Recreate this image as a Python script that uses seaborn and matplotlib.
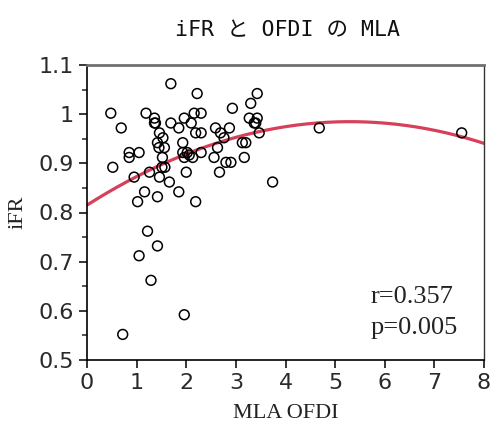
import numpy as np
import pandas as pd
import matplotlib
matplotlib.use("Agg")
import matplotlib.pyplot as plt
from matplotlib.ticker import MultipleLocator, FuncFormatter
import seaborn as sns

# values
mla_ofdi = [0.48, 0.69, 0.52, 0.85, 0.85, 1.05, 0.95, 1.19, 1.26, 1.16,
            1.02, 1.36, 1.36, 1.38, 1.46, 1.53, 1.42, 1.45, 1.56, 1.52,
            1.51, 1.57, 1.46, 1.66, 1.42, 1.69, 1.69, 1.85, 1.85, 1.96,
            2.10, 2.16, 2.30, 2.22, 2.19, 2.30, 1.93, 1.93, 2.02, 2.06,
            1.96, 2.13, 2.30, 2.00, 2.19, 2.56, 2.59, 2.63, 2.69, 2.76,
            2.87, 2.80, 2.90, 2.67, 2.93, 3.13, 3.20, 3.17, 3.27, 3.30,
            3.43, 3.37, 3.43, 3.40, 3.47, 3.74, 4.68, 7.55, 1.22, 1.42,
            1.05, 1.29, 1.96, 0.72]
ifr = [1.002, 0.972, 0.892, 0.922, 0.912, 0.922, 0.872, 1.002, 0.882, 0.842,
       0.822, 0.992, 0.982, 0.982, 0.962, 0.952, 0.942, 0.932, 0.932, 0.912,
       0.892, 0.892, 0.872, 0.862, 0.832, 1.062, 0.982, 0.972, 0.842, 0.992,
       0.982, 1.002, 1.002, 1.042, 0.962, 0.962, 0.942, 0.922, 0.922, 0.917,
       0.912, 0.912, 0.922, 0.882, 0.822, 0.912, 0.972, 0.932, 0.962, 0.952,
       0.972, 0.902, 0.902, 0.882, 1.012, 0.942, 0.942, 0.912, 0.992, 1.022,
       1.042, 0.982, 0.992, 0.982, 0.962, 0.862, 0.972, 0.962, 0.762, 0.732,
       0.712, 0.662, 0.592, 0.552]

# quadratic fit line (a*x^2 + b*x + c)
fit_coef = [-0.00605, 0.0641, 0.815]
fit_x = np.linspace(0, 8, 200)

r_text = "r=0.357"
p_text = "p=0.005"
title = "iFR と OFDI の MLA"

df = pd.DataFrame({"MLA OFDI": mla_ofdi, "iFR": ifr})
df_fit = pd.DataFrame({"x": fit_x, "y": np.polyval(fit_coef, fit_x)})

sns.set_theme(style="white")
plt.rcParams["font.family"] = ["DejaVu Sans"]

fig = plt.figure(figsize=(4.99, 4.25), dpi=100)
ax = fig.add_axes([0.1743, 0.153, 0.7957, 0.694])

sns.lineplot(data=df_fit, x="x", y="y", ax=ax, color="#d6405a", linewidth=2.3, zorder=2)
sns.scatterplot(data=df, x="MLA OFDI", y="iFR", ax=ax, marker="o", s=50,
                facecolors="none", edgecolor="black", linewidth=1.1, zorder=3)

ax.set_xlim(0, 8)
ax.set_ylim(0.5, 1.1)
ax.xaxis.set_major_locator(MultipleLocator(1))
ax.yaxis.set_major_locator(MultipleLocator(0.1))
ax.yaxis.set_minor_locator(MultipleLocator(0.05))
ax.yaxis.set_major_formatter(FuncFormatter(lambda v, p: f"{v:g}"))
ax.tick_params(axis="both", which="major", direction="out", length=6, width=1.1,
               labelsize=16, color="black", labelcolor="#2a2a2a", left=True, bottom=True)
ax.tick_params(axis="y", which="minor", direction="out", length=3.5, width=1.1, left=True)

for s in ["left", "bottom"]:
    ax.spines[s].set_color("black")
    ax.spines[s].set_linewidth(1.2)
ax.spines["top"].set_color("#707070")
ax.spines["top"].set_linewidth(2.0)
ax.spines["right"].set_color("#333333")
ax.spines["right"].set_linewidth(1.0)

ax.set_xlabel("MLA OFDI", family="Liberation Serif", fontsize=16, color="#222222", labelpad=8)
ax.set_ylabel("iFR", family="Liberation Serif", fontsize=16, color="#222222", labelpad=8)

ax.text(0.713, 0.192, r_text, transform=ax.transAxes, family="Liberation Serif",
        fontsize=19, color="#222222", va="baseline", ha="left")
ax.text(0.713, 0.088, p_text, transform=ax.transAxes, family="Liberation Serif",
        fontsize=19, color="#222222", va="baseline", ha="left")

fig.text(0.577, 0.929, title, family=["DejaVu Sans Mono", "Noto Sans CJK JP"],
         fontsize=15.5, ha="center", va="center", color="#111111")

fig.savefig("out.png", dpi=100)
